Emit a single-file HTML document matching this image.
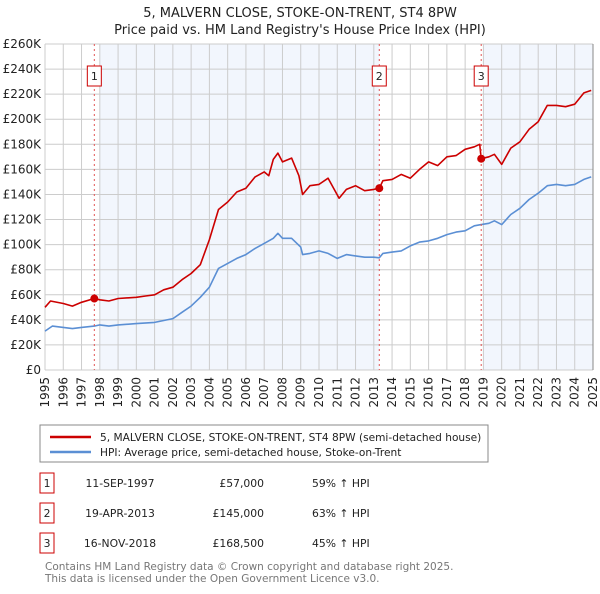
<!DOCTYPE html>
<html><head><meta charset="utf-8"><style>
body{margin:0;background:#fff;font-family:"DejaVu Sans","Liberation Sans",sans-serif;}
svg text{font-family:"DejaVu Sans","Liberation Sans",sans-serif;}
</style></head><body>
<svg id="c" width="600" height="590" xmlns="http://www.w3.org/2000/svg">
<text x="300" y="17" text-anchor="middle" font-size="13" fill="#222">5, MALVERN CLOSE, STOKE-ON-TRENT, ST4 8PW</text>
<text x="300" y="34" text-anchor="middle" font-size="13" fill="#222">Price paid vs. HM Land Registry's House Price Index (HPI)</text>
<g id="bands"></g><g id="grid"></g><g id="axes"></g><g id="series"></g><g id="markers"></g>
<rect x="40" y="425" width="448" height="37" fill="#fff" stroke="#888"/>
<line x1="50" y1="437" x2="91" y2="437" stroke="#cc0000" stroke-width="2.5"/>
<text x="100" y="441" font-size="10.6" fill="#222">5, MALVERN CLOSE, STOKE-ON-TRENT, ST4 8PW (semi-detached house)</text>
<line x1="50" y1="452" x2="91" y2="452" stroke="#5b8fd4" stroke-width="2.5"/>
<text x="100" y="456" font-size="10.6" fill="#222">HPI: Average price, semi-detached house, Stoke-on-Trent</text>
<g id="table" font-size="10.8" fill="#222"></g>
<text x="45" y="570" font-size="10.5" fill="#777">Contains HM Land Registry data © Crown copyright and database right 2025.</text>
<text x="45" y="582" font-size="10.5" fill="#777">This data is licensed under the Open Government Licence v3.0.</text>
</svg>
<script>
const hpiYears=[1995,1995.4,1996,1996.5,1997,1997.7,1998,1998.5,1999,2000,2001,2002,2002.5,2003,2003.5,2004,2004.5,2005,2005.5,2006,2006.5,2007,2007.5,2007.75,2008,2008.5,2009,2009.1,2009.5,2010,2010.5,2011,2011.5,2012,2012.5,2013,2013.3,2013.5,2014,2014.5,2015,2015.5,2016,2016.5,2017,2017.5,2018,2018.5,2018.88,2019.3,2019.6,2020,2020.5,2021,2021.5,2022,2022.5,2023,2023.5,2024,2024.5,2024.9];
const hpiValues=[31,35,34,33,34,35,36,35,36,37,38,41,46,51,58,66,81,85,89,92,97,101,105,109,105,105,98,92,93,95,93,89,92,91,90,90,89.5,93,94,95,99,102,103,105,108,110,111,115,116,117,119,116,124,129,136,141,147,148,147,148,152,154];
const propYears=[1995,1995.3,1996,1996.5,1997,1997.7,1998,1998.5,1999,2000,2000.5,2001,2001.5,2002,2002.5,2003,2003.5,2004,2004.5,2005,2005.5,2006,2006.5,2007,2007.25,2007.5,2007.75,2008,2008.5,2008.9,2009.1,2009.5,2010,2010.5,2011.1,2011.5,2012,2012.5,2013,2013.3,2013.5,2014,2014.5,2015,2015.5,2016,2016.5,2017,2017.5,2018,2018.5,2018.8,2018.88,2019.3,2019.6,2020,2020.5,2021,2021.5,2022,2022.5,2023,2023.5,2024,2024.5,2024.9];
const propValues=[50,55,53,51,54,57,56,55,57,58,59,60,64,66,72,77,84,104,128,134,142,145,154,158,155,168,173,166,169,155,140,147,148,153,137,144,147,143,144,145,151,152,156,153,160,166,163,170,171,176,178,180,168.5,170,172,164,177,182,192,198,211,211,210,212,221,223];
const saleYears=[1997.7,2013.3,2018.88];
const salePrices=[57,145,168.5];
const saleLabels=["1","2","3"];
const saleDates=["11-SEP-1997","19-APR-2013","16-NOV-2018"];
const salePriceText=["£57,000","£145,000","£168,500"];
const saleHpiText=["59% ↑ HPI","63% ↑ HPI","45% ↑ HPI"];
const yTicks=[0,20,40,60,80,100,120,140,160,180,200,220,240,260];
const xTicks=[1995,1996,1997,1998,1999,2000,2001,2002,2003,2004,2005,2006,2007,2008,2009,2010,2011,2012,2013,2014,2015,2016,2017,2018,2019,2020,2021,2022,2023,2024,2025];

const NS="http://www.w3.org/2000/svg";
const L=45,R=593,T=44,B=370;
const xs=y=>L+(y-1995)/30*(R-L);
const ys=v=>B-v/260*(B-T);
function mk(p,tag,a){const e=document.createElementNS(NS,tag);for(const k in a)e.setAttribute(k,a[k]);p.appendChild(e);return e;}
const G=id=>document.getElementById(id);
const bandSpans=[[1998,saleYears[1]],[2019,2025]];
bandSpans.forEach(s=>{const r=mk(G('bands'),'rect',{x:xs(s[0]),y:T,width:xs(s[1])-xs(s[0]),height:B-T,fill:'#f2f6fd'});

});
yTicks.forEach(v=>{const l=mk(G('grid'),'line',{x1:L,x2:R,y1:ys(v),y2:ys(v),stroke:'#ccc'});


const t=mk(G('axes'),'text',{x:L-4,y:ys(v)+4,'text-anchor':'end','font-size':12,fill:'#222'});t.textContent=v===0?'£0':'£'+v+'K';

});
xTicks.forEach(y=>{const l=mk(G('grid'),'line',{x1:xs(y),x2:xs(y),y1:T,y2:B,stroke:'#ccc'});


const t=mk(G('axes'),'text',{x:0,y:0,'text-anchor':'end','font-size':12,fill:'#222',transform:`translate(${xs(y)+4},377) rotate(-90)`});t.textContent=y;

});
mk(G('axes'),'line',{x1:R,x2:R,y1:T,y2:B,stroke:'#888'});
function path(xv,vv,col,name){const d=xv.map((y,i)=>(i?'L':'M')+xs(y).toFixed(1)+','+ys(vv[i]).toFixed(1)).join('');
const p=mk(G('series'),'path',{d:d,fill:'none',stroke:col,'stroke-width':1.6,'stroke-linejoin':'round'});

}
path(hpiYears,hpiValues,'#5b8fd4','hpi-line');
path(propYears,propValues,'#cc0000','property-price-line');
saleYears.forEach((y,i)=>{const x=xs(y);
const l=mk(G('markers'),'line',{x1:x,x2:x,y1:T,y2:B,stroke:'#e05555','stroke-dasharray':'2,3'});


const c=mk(G('markers'),'circle',{cx:x,cy:ys(salePrices[i]),r:4,fill:'#cc0000'});


const b=mk(G('markers'),'rect',{x:x-7,y:66,width:14,height:20,fill:'#fff',stroke:'#cc0000'});


const t=mk(G('markers'),'text',{x:x,y:80,'text-anchor':'middle','font-size':11,fill:'#222'});t.textContent=saleLabels[i];


const ry=473+i*30;
const tb=mk(G('table'),'rect',{x:40,y:ry,width:14,height:20,fill:'#fff',stroke:'#cc0000'});


const cells=[[47,'middle',saleLabels[i],'table-sale-number'],[120,'middle',saleDates[i],'table-sale-date'],[264,'end',salePriceText[i],'table-sale-price'],[312,'start',saleHpiText[i],'table-sale-hpi-change']];
cells.forEach(c=>{const tt=mk(G('table'),'text',{x:c[0],y:ry+14,'text-anchor':c[1]});tt.textContent=c[2];

});});
</script>
</body></html>
